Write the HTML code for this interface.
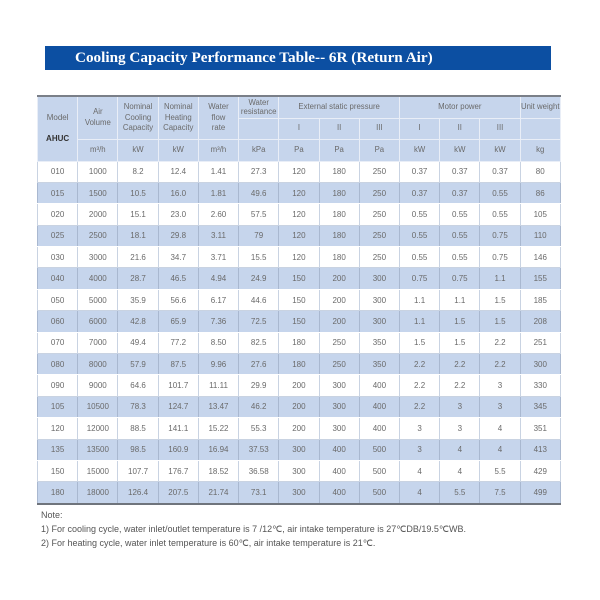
<!DOCTYPE html>
<html><head><meta charset="utf-8"><style>
body{margin:0;width:600px;height:600px;background:#fff;position:relative;font-family:"Liberation Sans",sans-serif;overflow:hidden}
.bar{position:absolute;left:45px;top:46px;width:506px;height:24px;background:#0c4fa2;color:#fff;font:bold 15.2px "Liberation Serif",serif;line-height:24px;text-indent:30px}
table{position:absolute;left:37px;top:95px;width:523px;border-collapse:collapse;table-layout:fixed;border-top:2px solid #7a7f88;border-bottom:2px solid #6f747c}
td{padding:0;text-align:center;color:#6a6a6a;font-size:8px;border:1px solid #c9d3e2;overflow:hidden;white-space:nowrap}
tr.h td{background:#c6d5ec;border-color:#e9eef7;line-height:10.5px;white-space:normal;font-size:7.8px}
tr.b td{background:#c6d5ec;border-left-color:#a9b8d0;border-right-color:#a9b8d0;border-top-color:#fff;border-bottom-color:#fff}
tr.d td{height:20.4px}
.note{position:absolute;left:41px;font-size:9px;color:#555;white-space:nowrap}
</style></head><body>
<div class="bar">Cooling Capacity Performance Table-- 6R (Return Air)</div>
<table>
<colgroup><col span="13" style="width:40.23px"></colgroup>
<tr class="h" style="height:22px"><td rowspan="3" style="font-size:8px">Model<br><br><b style="color:#333">AHUC</b></td><td rowspan="2">Air<br>Volume</td><td rowspan="2">Nominal<br>Cooling<br>Capacity</td><td rowspan="2">Nominal<br>Heating<br>Capacity</td><td rowspan="2">Water<br>flow<br>rate</td><td style="line-height:9px">Water<br>resistance</td><td colspan="3">External static pressure</td><td colspan="3">Motor power</td><td>Unit weight</td></tr>
<tr class="h" style="height:21px"><td></td><td>I</td><td>II</td><td>III</td><td>I</td><td>II</td><td>III</td><td></td></tr>
<tr class="h" style="height:22px"><td>m³/h</td><td>kW</td><td>kW</td><td>m³/h</td><td>kPa</td><td>Pa</td><td>Pa</td><td>Pa</td><td>kW</td><td>kW</td><td>kW</td><td>kg</td></tr>
<tr class="d"><td>010</td><td>1000</td><td>8.2</td><td>12.4</td><td>1.41</td><td>27.3</td><td>120</td><td>180</td><td>250</td><td>0.37</td><td>0.37</td><td>0.37</td><td>80</td></tr>
<tr class="d b"><td>015</td><td>1500</td><td>10.5</td><td>16.0</td><td>1.81</td><td>49.6</td><td>120</td><td>180</td><td>250</td><td>0.37</td><td>0.37</td><td>0.55</td><td>86</td></tr>
<tr class="d"><td>020</td><td>2000</td><td>15.1</td><td>23.0</td><td>2.60</td><td>57.5</td><td>120</td><td>180</td><td>250</td><td>0.55</td><td>0.55</td><td>0.55</td><td>105</td></tr>
<tr class="d b"><td>025</td><td>2500</td><td>18.1</td><td>29.8</td><td>3.11</td><td>79</td><td>120</td><td>180</td><td>250</td><td>0.55</td><td>0.55</td><td>0.75</td><td>110</td></tr>
<tr class="d"><td>030</td><td>3000</td><td>21.6</td><td>34.7</td><td>3.71</td><td>15.5</td><td>120</td><td>180</td><td>250</td><td>0.55</td><td>0.55</td><td>0.75</td><td>146</td></tr>
<tr class="d b"><td>040</td><td>4000</td><td>28.7</td><td>46.5</td><td>4.94</td><td>24.9</td><td>150</td><td>200</td><td>300</td><td>0.75</td><td>0.75</td><td>1.1</td><td>155</td></tr>
<tr class="d"><td>050</td><td>5000</td><td>35.9</td><td>56.6</td><td>6.17</td><td>44.6</td><td>150</td><td>200</td><td>300</td><td>1.1</td><td>1.1</td><td>1.5</td><td>185</td></tr>
<tr class="d b"><td>060</td><td>6000</td><td>42.8</td><td>65.9</td><td>7.36</td><td>72.5</td><td>150</td><td>200</td><td>300</td><td>1.1</td><td>1.5</td><td>1.5</td><td>208</td></tr>
<tr class="d"><td>070</td><td>7000</td><td>49.4</td><td>77.2</td><td>8.50</td><td>82.5</td><td>180</td><td>250</td><td>350</td><td>1.5</td><td>1.5</td><td>2.2</td><td>251</td></tr>
<tr class="d b"><td>080</td><td>8000</td><td>57.9</td><td>87.5</td><td>9.96</td><td>27.6</td><td>180</td><td>250</td><td>350</td><td>2.2</td><td>2.2</td><td>2.2</td><td>300</td></tr>
<tr class="d"><td>090</td><td>9000</td><td>64.6</td><td>101.7</td><td>11.11</td><td>29.9</td><td>200</td><td>300</td><td>400</td><td>2.2</td><td>2.2</td><td>3</td><td>330</td></tr>
<tr class="d b"><td>105</td><td>10500</td><td>78.3</td><td>124.7</td><td>13.47</td><td>46.2</td><td>200</td><td>300</td><td>400</td><td>2.2</td><td>3</td><td>3</td><td>345</td></tr>
<tr class="d"><td>120</td><td>12000</td><td>88.5</td><td>141.1</td><td>15.22</td><td>55.3</td><td>200</td><td>300</td><td>400</td><td>3</td><td>3</td><td>4</td><td>351</td></tr>
<tr class="d b"><td>135</td><td>13500</td><td>98.5</td><td>160.9</td><td>16.94</td><td>37.53</td><td>300</td><td>400</td><td>500</td><td>3</td><td>4</td><td>4</td><td>413</td></tr>
<tr class="d"><td>150</td><td>15000</td><td>107.7</td><td>176.7</td><td>18.52</td><td>36.58</td><td>300</td><td>400</td><td>500</td><td>4</td><td>4</td><td>5.5</td><td>429</td></tr>
<tr class="d b"><td>180</td><td>18000</td><td>126.4</td><td>207.5</td><td>21.74</td><td>73.1</td><td>300</td><td>400</td><td>500</td><td>4</td><td>5.5</td><td>7.5</td><td>499</td></tr>
</table>
<div class="note" style="top:510px">Note:</div>
<div class="note" style="top:524px">1) For cooling cycle, water inlet/outlet temperature is 7 /12℃, air intake temperature is 27℃DB/19.5℃WB.</div>
<div class="note" style="top:538px">2) For heating cycle, water inlet temperature is 60℃, air intake temperature is 21℃.</div>
</body></html>
